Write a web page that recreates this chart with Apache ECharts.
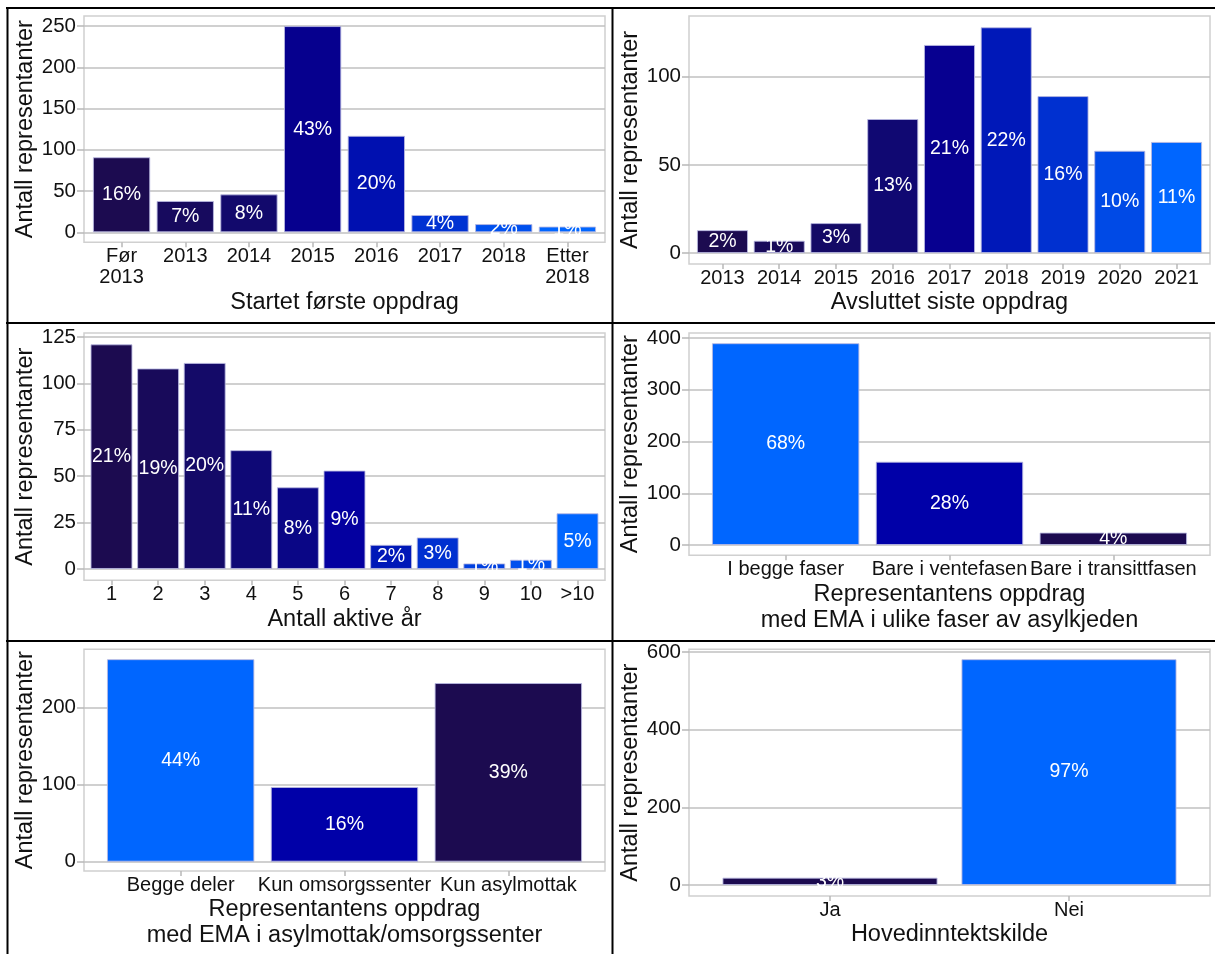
<!DOCTYPE html>
<html><head><meta charset="utf-8">
<script src="https://cdn.jsdelivr.net/npm/echarts@6/dist/echarts.min.js"></script>
<style>html,body{margin:0;padding:0;background:#fff}#c{width:1215px;height:954px}</style>
</head><body><div id="c"></div>
<script>
// ---------- data ----------
const yName = 'Antall representanter';

const p1Categories = ['Før\n2013', '2013', '2014', '2015', '2016', '2017', '2018', 'Etter\n2018'];
const p1Values = [91, 38, 46, 250, 117, 21, 10, 7];
const p1Pct = ['16%', '7%', '8%', '43%', '20%', '4%', '2%', '1%'];
const p1Ticks = [0, 50, 100, 150, 200, 250];
const p1Title = 'Startet første oppdrag';

const p2Categories = ['2013', '2014', '2015', '2016', '2017', '2018', '2019', '2020', '2021'];
const p2Values = [13, 7, 17, 76, 118, 128, 89, 58, 63];
const p2Pct = ['2%', '1%', '3%', '13%', '21%', '22%', '16%', '10%', '11%'];
const p2Ticks = [0, 50, 100];
const p2Title = 'Avsluttet siste oppdrag';

const p3Categories = ['1', '2', '3', '4', '5', '6', '7', '8', '9', '10', '>10'];
const p3Values = [121, 108, 111, 64, 44, 53, 13, 17, 3, 5, 30];
const p3Pct = ['21%', '19%', '20%', '11%', '8%', '9%', '2%', '3%', '1%', '1%', '5%'];
const p3Ticks = [0, 25, 50, 75, 100, 125];
const p3Title = 'Antall aktive år';

const p4Categories = ['I begge faser', 'Bare i ventefasen', 'Bare i transittfasen'];
const p4Values = [390, 161, 24];
const p4Pct = ['68%', '28%', '4%'];
const p4Ticks = [0, 100, 200, 300, 400];
const p4Title = 'Representantens oppdrag\nmed EMA i ulike faser av asylkjeden';

const p5Categories = ['Begge deler', 'Kun omsorgssenter', 'Kun asylmottak'];
const p5Values = [263, 97, 232];
const p5Pct = ['44%', '16%', '39%'];
const p5Ticks = [0, 100, 200];
const p5Title = 'Representantens oppdrag\nmed EMA i asylmottak/omsorgssenter';

const p6Categories = ['Ja', 'Nei'];
const p6Values = [19, 582];
const p6Pct = ['3%', '97%'];
const p6Ticks = [0, 200, 400, 600];
const p6Title = 'Hovedinntektskilde';

// ---------- styles ----------
const p1Colors = ['#1c0b50', '#170a5e', '#12096c', '#06008e', '#0010b0', '#0032d2', '#0050ee', '#0066ff'];
const p2Colors = ['#1c0b50', '#180a5a', '#140a66', '#100872', '#070090', '#0018b8', '#0030d0', '#004ae6', '#0066ff'];
const p3Colors = ['#1c0b50', '#180a5a', '#140a68', '#0e0876', '#0a0686', '#0400a0', '#0018b8', '#0030d0', '#0040e0', '#0050ee', '#0066ff'];
const p4Colors = ['#0066ff', '#0000a8', '#1c0b50'];
const p5Colors = ['#0066ff', '#0000a8', '#1c0b50'];
const p6Colors = ['#1c0b50', '#0066ff'];

const FONT = '"Liberation Sans", Arial, sans-serif';
const TXT = '#111';
const GRIDC = '#c0c0c0';

const panels = [
  {cats: p1Categories, vals: p1Values, pct: p1Pct, ticks: p1Ticks, title: p1Title, colors: p1Colors,
   box: [84, 16, 521, 226.3], yr: [-12.1, 262.2], nameGap: 46},
  {cats: p2Categories, vals: p2Values, pct: p2Pct, ticks: p2Ticks, title: p2Title, colors: p2Colors,
   box: [689, 16, 521, 248], yr: [-6.2, 134.4], nameGap: 24.5},
  {cats: p3Categories, vals: p3Values, pct: p3Pct, ticks: p3Ticks, title: p3Title, colors: p3Colors,
   box: [84, 333, 521, 247.3], yr: [-6.1, 127.1], nameGap: 24.5},
  {cats: p4Categories, vals: p4Values, pct: p4Pct, ticks: p4Ticks, title: p4Title, colors: p4Colors,
   box: [689, 333, 521, 222.3], yr: [-19.9, 409.7], nameGap: 24},
  {cats: p5Categories, vals: p5Values, pct: p5Pct, ticks: p5Ticks, title: p5Title, colors: p5Colors,
   box: [84, 649.3, 521, 221.7], yr: [-12.1, 275.8], nameGap: 25},
  {cats: p6Categories, vals: p6Values, pct: p6Pct, ticks: p6Ticks, title: p6Title, colors: p6Colors,
   box: [689, 649.3, 521, 246.7], yr: [-28.3, 607.5], nameGap: 25}
];
const PAD = 0.59;

const chart = echarts.init(document.getElementById('c'), null, {renderer: 'canvas'});
const option = {
  animation: false,
  backgroundColor: '#fff',
  textStyle: {fontFamily: FONT, color: TXT},
  grid: panels.map(p => ({left: p.box[0], top: p.box[1], width: p.box[2], height: p.box[3],
    show: true, borderColor: '#d0d0d0', borderWidth: 1.5, backgroundColor: 'transparent'})),
  xAxis: panels.map((p, i) => {
    const idx = p.cats.map((_, k) => k);
    return {
      gridIndex: i, type: 'value', min: -PAD, max: p.cats.length - 1 + PAD, position: 'bottom',
      axisLine: {show: false, onZero: false}, splitLine: {show: false},
      axisTick: {show: true, customValues: idx, length: 5, lineStyle: {color: '#b8b8b8', width: 1.5}},
      axisLabel: {show: true, customValues: idx, formatter: v => p.cats[Math.round(v)],
        fontSize: 20, lineHeight: 21, color: TXT, margin: 4, fontFamily: FONT, hideOverlap: false},
      name: p.title, nameLocation: 'middle', nameGap: p.nameGap,
      nameTextStyle: {fontSize: 23.5, lineHeight: 26, color: TXT, fontFamily: FONT}
    };
  }),
  yAxis: panels.map((p, i) => ({
    gridIndex: i, type: 'value', min: p.yr[0], max: p.yr[1], position: 'left',
    minInterval: p.ticks[1] - p.ticks[0], maxInterval: p.ticks[1] - p.ticks[0],
    axisLine: {show: false, onZero: false},
    axisTick: {show: true, customValues: p.ticks, length: 7, lineStyle: {color: '#b8b8b8', width: 1.5}},
    axisLabel: {show: true, customValues: p.ticks, fontSize: 20.5, color: TXT, margin: 8, fontFamily: FONT},
    splitLine: {show: true, lineStyle: {color: GRIDC, width: 1.5}},
    name: yName, nameLocation: 'middle', nameGap: 46,
    nameTextStyle: {fontSize: 23.5, color: TXT, fontFamily: FONT}
  })),
  series: panels.map((p, i) => ({
    type: 'bar', xAxisIndex: i, yAxisIndex: i, barCategoryGap: '10%', silent: true,
    data: p.vals.map((v, k) => ({value: [k, v], itemStyle: {color: p.colors[k]}})),
    itemStyle: {borderColor: 'rgba(185,185,225,0.85)', borderWidth: 1},
    label: {show: true, position: 'inside', color: '#fff', fontSize: 19.5, fontFamily: FONT,
      formatter: d => p.pct[d.dataIndex]}
  })),
  graphic: [
    {type: 'line', shape: {x1: 6, y1: 8, x2: 1215, y2: 8}, style: {stroke: '#000', lineWidth: 2}},
    {type: 'line', shape: {x1: 7.5, y1: 7, x2: 7.5, y2: 954}, style: {stroke: '#000', lineWidth: 2}},
    {type: 'line', shape: {x1: 612.5, y1: 7, x2: 612.5, y2: 954}, style: {stroke: '#000', lineWidth: 2}},
    {type: 'line', shape: {x1: 6, y1: 323, x2: 1215, y2: 323}, style: {stroke: '#000', lineWidth: 2}},
    {type: 'line', shape: {x1: 6, y1: 641, x2: 1215, y2: 641}, style: {stroke: '#000', lineWidth: 2}}
  ]
};
chart.setOption(option);
</script>
</body></html>
